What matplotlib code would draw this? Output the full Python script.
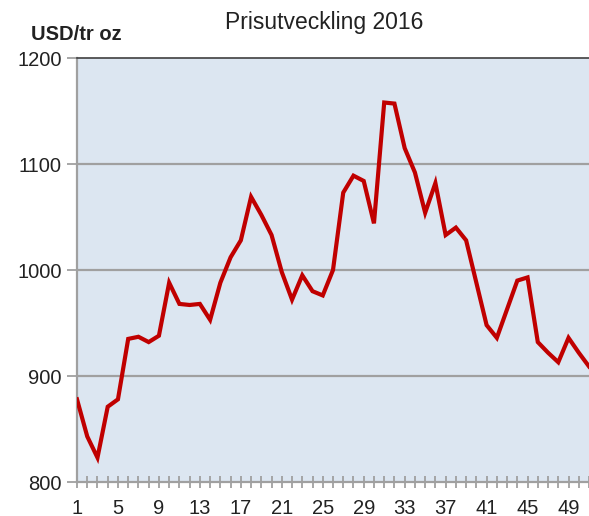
import matplotlib.pyplot as plt
import numpy as np

plt.rcParams['font.family'] = ['Liberation Sans', 'DejaVu Sans']

weeks = list(range(1, 52))
prices = [878, 843, 823, 871, 878, 935, 937, 932, 938, 988,
          968, 967, 968, 953, 988, 1012, 1028, 1069, 1052, 1033,
          998, 972, 995, 980, 976, 1000, 1073, 1089, 1084, 1044,
          1158, 1157, 1115, 1092, 1054, 1082, 1033, 1040, 1028, 988,
          948, 936, 963, 990, 993, 932, 922, 913, 936, 922, 909]
xtick_labels = list(range(1, 52, 4))
ytick_values = [800, 900, 1000, 1100, 1200]

fig = plt.figure(figsize=(5.89, 5.16), dpi=100)
ax = fig.add_axes([77 / 589, 34 / 516, 512 / 589, 424 / 516])
ax.set_facecolor('#dce6f1')

for v in ytick_values[1:-1]:
    ax.axhline(v, color='#a0a0a0', lw=1.6, zorder=1)

ax.plot(weeks, prices, color='#c00000', lw=3.0, zorder=3, solid_joinstyle='miter')

ax.set_xlim(1, 51)
ax.set_ylim(800, 1200)

ax.set_xticks(xtick_labels)
ax.set_xticklabels([str(w) for w in xtick_labels])
ax.set_xticks(weeks, minor=True)
ax.tick_params(axis='x', which='both', direction='inout', length=9, width=1.3,
               color='#a0a0a0', labelsize=14.5, labelcolor='#222222', pad=8)
ax.set_yticks(ytick_values)
ax.tick_params(axis='y', direction='out', length=7, width=1.3,
               color='#a0a0a0', labelsize=14.5, labelcolor='#222222', pad=4)

for side in ['left', 'bottom']:
    ax.spines[side].set_color('#a0a0a0')
    ax.spines[side].set_linewidth(1.6)
ax.spines['top'].set_color('#404040')
ax.spines['top'].set_linewidth(1.2)
ax.spines['right'].set_visible(False)

fig.text(324 / 589, 1 - 22 / 516, 'Prisutveckling 2016', ha='center', va='center',
         fontsize=16.5, color='#222222')
fig.text(31 / 589, 1 - 35 / 516, 'USD/tr oz', ha='left', va='center',
         fontsize=14.5, fontweight='bold', color='#222222')

fig.savefig('out.png', dpi=100)
